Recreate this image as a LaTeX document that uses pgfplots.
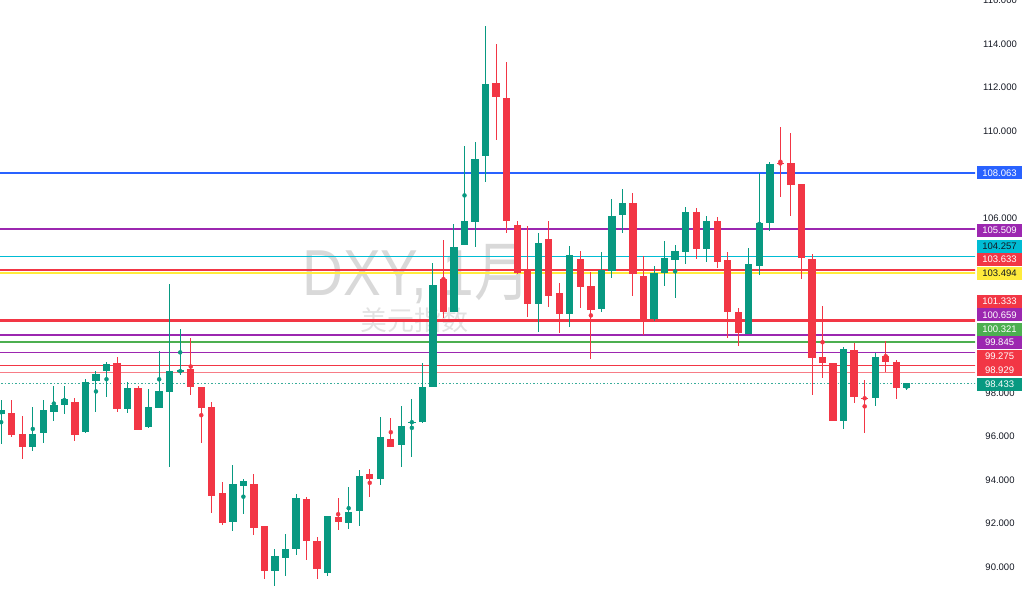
\documentclass[border=0pt]{standalone}
\usepackage{pgfplots}
\pgfplotsset{compat=1.18}
\usepackage{pgfplotstable}
\usepackage{graphicx}
\usepackage{fontspec}
\setmainfont{Liberation Sans}
\newfontfamily\cjk{Noto Sans CJK SC}

\definecolor{up}{HTML}{089981}
\definecolor{dn}{HTML}{F23645}
\definecolor{tvblue}{HTML}{2962FF}
\definecolor{tvpurple}{HTML}{9C27B0}
\definecolor{tvcyan}{HTML}{00BCD4}
\definecolor{tvyellow}{HTML}{FFEB3B}
\definecolor{tvgreen}{HTML}{4CAF50}
\definecolor{tvtext}{HTML}{131722}
\definecolor{wm}{HTML}{D9D9D9}
\definecolor{wmlight}{HTML}{E2E2E2}

% monthly candles: index, open, high, low, close
\pgfplotstableread{
i o h l c
0 97.01 97.67 95.64 97.21
1 97.09 97.67 95.99 96.08
2 96.11 96.94 94.96 95.50
3 95.50 97.34 95.35 96.11
4 96.17 97.67 95.71 97.23
5 97.13 98.31 96.71 97.44
6 97.45 98.31 97.03 97.70
7 97.59 97.78 95.79 96.05
8 96.20 98.63 96.17 98.48
9 98.55 99.00 97.13 98.86
10 99.01 99.43 97.82 99.32
11 99.37 99.63 97.13 97.26
12 97.24 98.51 97.09 98.21
13 98.22 98.31 96.31 96.31
14 96.42 98.16 96.37 97.34
15 97.32 99.92 97.32 98.07
16 98.05 102.97 94.61 99.00
17 98.97 100.91 98.80 99.02
18 99.08 100.50 97.91 98.28
19 98.27 98.27 95.68 97.32
20 97.34 97.59 92.50 93.28
21 93.39 93.92 91.94 92.04
22 92.09 94.70 91.68 93.80
23 93.73 94.05 92.43 93.96
24 93.82 94.26 91.47 91.80
25 91.89 91.89 89.45 89.83
26 89.83 90.82 89.16 90.52
27 90.43 91.51 89.60 90.82
28 90.82 93.36 90.56 93.18
29 93.14 93.24 90.33 91.20
30 91.22 91.37 89.45 89.93
31 89.72 92.36 89.60 92.36
32 92.29 93.16 91.71 92.09
33 92.02 93.67 91.75 92.55
34 92.58 94.46 91.91 94.19
35 94.26 94.51 93.24 94.06
36 94.05 96.90 93.77 95.96
37 95.88 96.86 95.53 95.53
38 95.61 97.41 94.61 96.48
39 96.63 97.72 95.07 96.68
40 96.68 99.35 96.60 98.25
41 98.29 103.94 98.25 102.93
42 103.20 105.01 101.42 101.72
43 101.72 105.75 101.70 104.67
44 104.78 109.32 104.78 105.89
45 105.82 109.49 104.67 108.71
46 108.86 114.82 107.68 112.16
47 112.20 113.98 109.59 111.55
48 111.53 113.18 105.34 105.89
49 105.69 105.89 103.45 103.48
50 103.66 105.65 101.49 102.06
51 102.06 105.34 100.80 104.85
52 105.04 105.89 101.92 102.45
53 102.56 103.05 100.76 101.61
54 101.61 104.73 101.03 104.32
55 104.15 104.52 101.90 102.86
56 102.90 103.55 99.55 101.80
57 101.83 104.44 101.72 103.63
58 103.58 106.87 103.28 106.11
59 106.15 107.34 105.34 106.69
60 106.69 107.15 102.44 103.45
61 103.36 104.27 100.65 101.31
62 101.38 103.81 101.29 103.48
63 103.48 104.97 102.90 104.17
64 104.09 104.78 102.36 104.52
65 104.47 106.53 103.89 106.30
66 106.30 106.46 104.12 104.59
67 104.59 106.11 104.01 105.88
68 105.88 106.07 103.71 103.98
69 104.09 104.47 100.50 101.69
70 101.69 101.90 100.15 100.73
71 100.68 104.63 100.68 103.89
72 103.81 108.09 103.40 105.77
73 105.77 108.60 105.43 108.49
74 108.55 110.20 106.99 108.49
75 108.52 109.90 106.11 107.53
76 107.57 107.57 103.20 104.17
77 104.13 104.36 97.90 99.58
78 99.63 101.98 98.66 99.38
79 99.35 99.35 96.72 96.72
80 96.72 100.09 96.34 99.99
81 99.96 100.27 97.52 97.79
82 97.78 98.59 96.17 97.72
83 97.75 99.81 97.41 99.66
84 99.70 100.39 98.97 99.43
85 99.43 99.50 97.70 98.21
86 98.21 98.44 98.13 98.43
}\candles

\newcommand{\pricetag}[4]{%
  \node[fill=#2, text=#3, minimum width=45pt, minimum height=13pt, inner sep=0pt,
        font=\fontsize{9.5}{10}\selectfont] at (axis cs:94.81,#1) {#4};}

\begin{document}
\begin{tikzpicture}
\begin{axis}[
    scale only axis,
    width=975pt, height=590pt,
    xmin=-0.114, xmax=92.48,
    ymin=88.96, ymax=116.01,
    hide x axis,
    axis line style={draw=none},
    tick style={draw=none},
    ytick={90,92,94,96,98,106,110,112,114,116},
    yticklabels={90.000,92.000,94.000,96.000,98.000,106.000,110.000,112.000,114.000,116.000},
    yticklabel pos=right,
    yticklabel style={anchor=center, xshift=25pt, text=tvtext, font=\fontsize{9.5}{10}\selectfont},
    clip mode=individual,
]

% watermark
\node[anchor=base west, text=wm, inner sep=0pt, font=\fontsize{65}{65}\selectfont]
  at (axis cs:28.57,102.48) {\scalebox{0.87}[1]{DXY, 1{\cjk 月}}};
\node[anchor=base west, text=wmlight, inner sep=0pt, font={\cjk\fontsize{27}{27}\selectfont}]
  at (axis cs:34.07,100.86) {美元指数};

% horizontal levels
\addplot[tvblue, line width=2pt] coordinates {(-1,108.063) (100,108.063)};
\addplot[tvpurple, line width=2pt] coordinates {(-1,105.509) (100,105.509)};
\addplot[tvcyan, line width=1pt] coordinates {(-1,104.257) (100,104.257)};
\addplot[dn, line width=2pt] coordinates {(-1,103.633) (100,103.633)};
\addplot[tvyellow, line width=2pt] coordinates {(-1,103.494) (100,103.494)};
\addplot[dn, line width=3pt] coordinates {(-1,101.333) (100,101.333)};
\addplot[tvpurple, line width=1.5pt] coordinates {(-1,100.659) (100,100.659)};
\addplot[tvgreen, line width=1.5pt] coordinates {(-1,100.321) (100,100.321)};
\addplot[tvpurple, line width=1.5pt] coordinates {(-1,99.845) (100,99.845)};
\addplot[dn, line width=1pt] coordinates {(-1,99.275) (100,99.275)};
\addplot[dn!65, line width=1pt] coordinates {(-1,98.929) (100,98.929)};
\addplot[up!80, line width=1pt, dash pattern=on 1.5pt off 2pt] coordinates {(-1,98.433) (100,98.433)};

% wicks
\addplot[up, only marks, mark=none, error bars/.cd, y dir=both, y explicit, error mark=none,
    error bar style={line width=1pt, up}]
  table[x=i, y expr={(\thisrow{h}+\thisrow{l})/2}, y error expr={(\thisrow{h}-\thisrow{l})/2},
        restrict expr to domain={\thisrow{c}-\thisrow{o}}{0:100}] {\candles};
\addplot[dn, only marks, mark=none, error bars/.cd, y dir=both, y explicit, error mark=none,
    error bar style={line width=1pt, dn}]
  table[x=i, y expr={(\thisrow{h}+\thisrow{l})/2}, y error expr={(\thisrow{h}-\thisrow{l})/2},
        restrict expr to domain={\thisrow{o}-\thisrow{c}}{0.0001:100}] {\candles};

% bodies
\addplot[up, only marks, mark=none, error bars/.cd, y dir=both, y explicit, error mark=none,
    error bar style={line width=7.3pt, up}]
  table[x=i, y expr={(\thisrow{o}+\thisrow{c})/2}, y error expr={max(abs(\thisrow{c}-\thisrow{o})/2,0.03)},
        restrict expr to domain={\thisrow{c}-\thisrow{o}}{0:100}] {\candles};
\addplot[dn, only marks, mark=none, error bars/.cd, y dir=both, y explicit, error mark=none,
    error bar style={line width=7.3pt, dn}]
  table[x=i, y expr={(\thisrow{o}+\thisrow{c})/2}, y error expr={max(abs(\thisrow{c}-\thisrow{o})/2,0.03)},
        restrict expr to domain={\thisrow{o}-\thisrow{c}}{0.0001:100}] {\candles};

% price tags on the scale
\pricetag{108.08}{tvblue}{white}{108.063}
\pricetag{105.46}{tvpurple}{white}{105.509}
\pricetag{104.70}{tvcyan}{tvtext}{104.257}
\pricetag{104.12}{dn}{white}{103.633}
\pricetag{103.48}{tvyellow}{tvtext}{103.494}
\pricetag{102.18}{dn}{white}{101.333}
\pricetag{101.57}{tvpurple}{white}{100.659}
\pricetag{100.91}{tvgreen}{white}{100.321}
\pricetag{100.30}{tvpurple}{white}{99.845}
\pricetag{99.66}{dn}{white}{99.275}
\pricetag{99.05}{dn}{white}{98.929}
\pricetag{98.40}{up}{white}{98.433}
\end{axis}
\pgfresetboundingbox
\path (0,0) rectangle (1024pt,590pt);
\end{tikzpicture}
\end{document}
